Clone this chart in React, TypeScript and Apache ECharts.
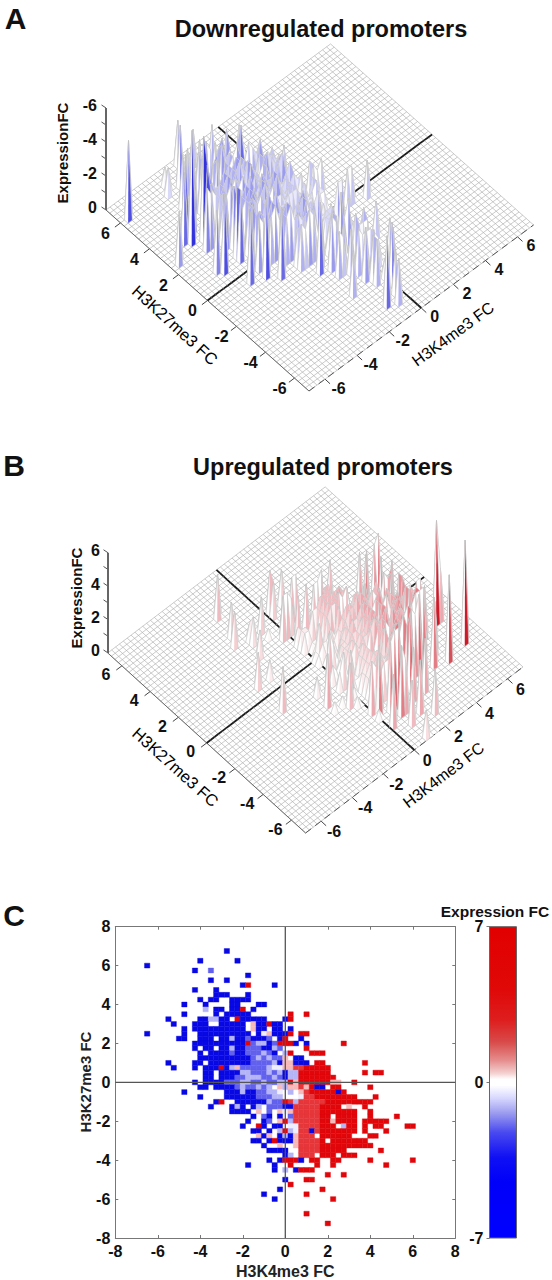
import React, { useEffect, useRef } from "react";
import * as echarts from "echarts";

// Panel C cells, rows from H3K27me3 FC 6.75 down to -7.25 in 0.25 steps.
// Left of "|": H3K4me3 FC -6.5 .. -0.25; right of "|": 0 .. 6.
const heatRows = [
  "...............B", "", "..........B......B", "B", ".........B..b", "...................B",
  "............B..B", "..................BR....B", ".........B...B", ".............BBB...B",
  "..........B.BB..BBBB", ".......B...B....BB...BB", "...........c.BB.BBR.B",
  ".......B.....B.BBBBB|.R..R", "....B.....BBccBB.RBBBBB|BR", ".....B...BBB..BBBBB.pBBRBB",
  ".......B.BBBBBBBBBB.pBB.BB|.B", "B......B..BBBBBBBBBB.BwpBB|BR.RR", "......BB..BBB.BBcBBbBBBb.B|R..B",
  ".........BBBBBBBBBBRbccBbR|RRB.B......R", ".........B.BB.BBcBBbbbBBcb|....R",
  "..........B.BBBBbBBbbbcbB.|cR...RRR", "..........BBBBBBBBBBbcbcbb|p.BB",
  "....B....BB.BBBBBBBBbbbbcB|ppBBB.RR.......R", ".....B...B.BBBRBcpbbbbbcww|pprrRRRRR",
  "...........BB.BBBBccbbbcbc|BccRRRRRR......R.RR", "...........BB.BBBbbcccbbcb|BccRRRRRRR",
  ".........B.BBBBbbbccbbcbbc|cRpRRRRRRpp..R", "..........BB.BBBBbcbbcbc.p|cpprpRBB.RR.....R",
  ".......B.......BBBcBBbbccw|.c.prRRRRRBR", "..........B....BBBBBBbbbcc|...wrrRRRRRRRR...R",
  ".............BR..BBBBBBcbb|RrcrrrrrRRRRRRRRR", "............B...BcB.Bc.bbb|BBrrrrrRRRR.p..R",
  "................BBBB.p.b.p|wprrrrrRRRRRRR..R", "....................B.bB.B|.brrrrrRR.RRRR..R....R",
  "...................B..Bb.p|RcrrrrrRRpRRRR.RRRRR", "..................B..RB.BB|.wwrrrrRRR.cRR.R.RR....RR",
  "....................BB.B.c|RcwrrBrRRRRRRR.R...R", ".....................pBp.B|cBprrr.RRRRRR...RR",
  "....................BB.BRB|BBprrrrR.RRRRRRR", "......................B..p|..prrrrRRRRRRRRRR",
  ".......................BBB|B..rrrrRRRRR......R", "|Bc.rrr.RRR.RRR", ".......................B.B|RRRB.RR..RR.....R.......R",
  "...................B....B.|.R....R..R.........R", "........................B|c.BRRR", "|........R..R", "|B...RR",
  "|.R", ".........................B|.......R", "......................B|....R", "........................B|.........R",
  "", "", "|....R", "", "|........R",
];
const heatCodes: Record<string, number> = { B: -7, b: -2.3, c: -1.1, w: -0.25, p: 1, r: 2.9, R: 7 };

// Panel A: |Expression FC| per cell, hex digit = value x 2, same layout as heatRows.
const downRows = [
  "...............5", "", "..........2......4", "9", ".........3..7", "...................5",
  "............5..5", "..................4.....4", ".........6...5", ".............465...6",
  "..........6.47..5634", ".......8...6....64...53", "...........2.56.45..6",
  ".......a.....6.54568", "....8.....64..45..54654|3", ".....d...554..45645..36.34",
  ".......c.5456545645..54.43|.4", "6......9..4564543654.5..34", "......76..546.4536445654.4",
  ".........4564564354.53354.", ".........6.45.563454445634", "..........7.5645365444345.|2",
  "..........6456546546434343|2.43", "....7....86.56456456434324|..434",
  ".....9...8.565.43.44344311|11", "...........64.564523444342|422", "...........53.456442223323|422",
  ".........7.65464432233233|2", "..........65.56453244232..|2.....44", ".......8.......56425644221|.2........4",
  "..........9....56456544422", ".............7...546456233|..2", "............8...425.52.333|66",
  "................5465.1.3.1|1", "....................5.35.6|.3", "...................7..53.1|.2",
  "..................8...5.46|.1", "....................65.4.2|.2...4", ".....................151.5|25",
  "....................54.4.4|44", "......................5..1", ".......................544|4",
  "|43", ".......................6.5|...5", "...................5....5.", "........................5|2.5",
  "", "|7", "", ".........................5", "......................8", "........................5",
  "", "", "", "", "",
];

// Panel B: Expression FC per cell, hex digit = value x 2, same layout as heatRows.
const upRows = [
  "", "", "", "", "", "", "", "...................5", "", "", "", "", "..................4",
  "|.5..4", ".................4|.4", "....................2..4", "....................3",
  ".......................1|.4.55", "|4", "...................3.....5|54.........5", "|....5",
  "|.5...556", "|2", "|22....55.......6", "..............4..2|224455544", "|.11455555......7.78",
  "|.114555655", "|14145565633..8", "|122325...55.....7", "|.1.2345545.6", "|...13455665456...7",
  "..............5|53134344565654767", "|..334534654.2..7", ".....................2...2|12334435656756..7",
  "|..3434456.6576..7....4", ".........................2|41343445626756.56655", ".....................6|.113435657.167.7.55....c6",
  "|51134.35675676.7...6", ".....................1.1|1.2343.565767...88", "........................5|..234436.5676578",
  ".........................1|..234435676567888", "|...343467678......6", "|.1.344.768.879", "|656..78..78.....8.......c",
  "|.8....9..9.........a", "|1..899", "|........6..6", "|....86", "|.6", "|.......6", "|....5", "|.........5",
  "", "", "|....3", "", "",
];

const floorTicks = [-6, -4, -2, 0, 2, 4, 6];
const heightTicks = [0, 1, 2, 3, 4, 5, 6];
const scatterTicksMax = 8;
const barTicks = [-7, 0, 7];

const FONT = "'Liberation Sans', Arial, sans-serif";

type Panel = {
  bx: number; by: number; e4x: number; e4y: number; e27x: number; e27y: number; zs: number;
  sign: number; lx: number; ly: number; rx: number; ry: number; zx: number; zlab: number;
};
const panelA: Panel = { bx: 309, by: 391, e4x: 16.04, e4y: -11.86, e27x: -14.5, e27y: -12.93, zs: 17, sign: -1, lx: -15, ly: 10.5, rx: 13.5, ry: 9, zx: 106, zlab: 97 };
const panelB: Panel = { bx: 305.6, by: 833, e4x: 15.53, e4y: -11.86, e27x: -14.13, e27y: -12.86, zs: 16.7, sign: 1, lx: -16, ly: 9, rx: 13, ry: 10.5, zx: 108, zlab: 100 };

const project = (p: Panel, i: number, j: number, h: number) => [
  p.bx + (i / 4) * p.e4x + (j / 4) * p.e27x,
  p.by + (i / 4) * p.e4y + (j / 4) * p.e27y - h * p.zs,
];

const eachCell = (rows: string[], fn: (c: string, x: number, y: number) => void) => {
  rows.forEach((row, r) => {
    const [left, right] = row.includes("|") ? row.split("|") : [row, ""];
    const line = left.padEnd(26, ".") + right;
    for (let c = 0; c < line.length; c++) {
      if (line[c] !== ".") fn(line[c], -6.5 + c * 0.25, 6.75 - r * 0.25);
    }
  });
};

const heightGrid = (rows: string[]) => {
  const z: number[][] = Array.from({ length: 57 }, () => new Array(57).fill(0));
  eachCell(rows, (c, x, y) => {
    const i = Math.round((x + 7) * 4);
    const j = Math.round((y + 7) * 4);
    if (i >= 0 && i <= 56 && j >= 0 && j <= 56) z[i][j] = parseInt(c, 16) * 0.5;
  });
  return z;
};

const mix = (a: number[], b: number[], t: number) => {
  const k = Math.max(0, Math.min(1, t));
  return `rgb(${a.map((v, n) => Math.round(v + (b[n] - v) * k)).join(",")})`;
};

const surfaceSeries = (p: Panel, rows: string[], peak: number[], full: number) => {
  const z = heightGrid(rows);
  const quads: any[] = [];
  const shade = (h: number) => mix([255, 255, 255], peak, Math.pow(h / full, 1.4));
  for (let i = 0; i < 56; i++) {
    for (let j = 0; j < 56; j++) {
      const a = z[i][j], b = z[i + 1][j], c = z[i + 1][j + 1], d = z[i][j + 1];
      if (a || b || c || d) quads.push([i + j + 1, 0, i, j, a, b, c, d]);
      if (j === 28 && !a && !b) quads.push([i + j + 0.5, 1, i, j, 0, 0, 0, 0]);
      if (i === 28 && !a && !d) quads.push([i + j + 0.5, 2, i, j, 0, 0, 0, 0]);
    }
  }
  quads.sort((u, v) => v[0] - u[0]);
  return {
    type: "custom", xAxisIndex: 0, yAxisIndex: 0, silent: true, progressive: 0, clip: false,
    encode: { x: 2, y: 3 },
    data: quads,
    renderItem: (_: any, api: any) => {
      const kind = api.value(1), i = api.value(2), j = api.value(3);
      if (kind === 1 || kind === 2) {
        const s = project(p, i, j, 0);
        const e = kind === 1 ? project(p, i + 1, j, 0) : project(p, i, j + 1, 0);
        const [s1, s2] = api.coord(s), [e1, e2] = api.coord(e);
        return { type: "line", shape: { x1: s1, y1: s2, x2: e1, y2: e2 }, style: { stroke: "#1c1c1c", lineWidth: 1.8 } };
      }
      const ha = api.value(4), hb = api.value(5), hc = api.value(6), hd = api.value(7);
      const A = api.coord(project(p, i, j, ha));
      const B = api.coord(project(p, i + 1, j, hb));
      const C = api.coord(project(p, i + 1, j + 1, hc));
      const D = api.coord(project(p, i, j + 1, hd));
      const children: any[] = [
        { type: "polygon", shape: { points: [A, B, C, D] }, style: { fill: "#fff", stroke: "none" } },
      ];
      if (hc > 0) children.push({ type: "polygon", shape: { points: [A, B, C] }, style: { fill: shade(hc), stroke: "none" } });
      if (ha > 0) children.push({ type: "polygon", shape: { points: [A, C, D] }, style: { fill: shade(ha), stroke: "none" } });
      children.push({ type: "polygon", shape: { points: [A, B, C, D] }, style: { fill: "none", stroke: "#c2c2c2", lineWidth: 0.5 } });
      return { type: "group", children };
    },
  };
};

const floorSeries = (p: Panel) => {
  const lines: number[][] = [];
  for (let k = 0; k <= 56; k++) { lines.push([k, 0]); lines.push([k, 1]); }
  return {
    type: "custom", xAxisIndex: 0, yAxisIndex: 0, silent: true, progressive: 0, clip: false,
    encode: { x: 0, y: 1 }, data: lines,
    renderItem: (_: any, api: any) => {
      const k = api.value(0);
      const s = api.coord(api.value(1) ? project(p, k, 0, 0) : project(p, 0, k, 0));
      const e = api.coord(api.value(1) ? project(p, k, 56, 0) : project(p, 56, k, 0));
      return { type: "line", shape: { x1: s[0], y1: s[1], x2: e[0], y2: e[1] }, style: { stroke: "#aeaeae", lineWidth: 0.65 } };
    },
  };
};

const textEl = (x: number, y: number, text: string, size: number, align = "center", weight = "bold", rotation = 0, fill = "#111") => ({
  type: "text", x, y, rotation,
  style: { text, fontFamily: FONT, fontSize: size, fontWeight: weight, fill, align, verticalAlign: "middle" },
});

const axesSeries = (p: Panel) => {
  const data: number[][] = [];
  floorTicks.forEach((v) => { data.push([0, v]); data.push([1, v]); });
  heightTicks.forEach((v) => data.push([2, v]));
  data.push([3, 0]);
  return {
    type: "custom", xAxisIndex: 0, yAxisIndex: 0, silent: true, progressive: 0, clip: false,
    encode: { x: 0, y: 1 }, data,
    renderItem: (_: any, api: any) => {
      const kind = api.value(0), v = api.value(1);
      const seg = (a: number[], b: number[], stroke = "#555", lineWidth = 1, lineDash?: number[]) => {
        const s = api.coord(a), e = api.coord(b);
        return { type: "line", shape: { x1: s[0], y1: s[1], x2: e[0], y2: e[1] }, style: { stroke, lineWidth, lineDash } };
      };
      if (kind === 3) {
        return {
          type: "group",
          children: [
            seg(project(p, 0, 56, 0), project(p, 0, 0, 0), "#6a6a6a", 1),
            seg(project(p, 0, 0, 0), project(p, 56, 0, 0), "#555", 1, [7, 5]),
            seg([p.zx, project(p, 0, 56, 0)[1]], [p.zx, project(p, 0, 56, 6)[1]], "#666", 2),
          ],
        };
      }
      if (kind === 0) {
        const q = project(p, 0, (v + 7) * 4, 0);
        const [tx, ty] = api.coord(q);
        return {
          type: "group",
          children: [
            { type: "line", shape: { x1: tx, y1: ty, x2: tx - 5.6, y2: ty + 4.2 }, style: { stroke: "#444", lineWidth: 1 } },
            textEl(tx + p.lx, ty + p.ly, String(v), 16),
          ],
        };
      }
      if (kind === 1) {
        const q = project(p, (v + 7) * 4, 0, 0);
        const [tx, ty] = api.coord(q);
        return {
          type: "group",
          children: [
            { type: "line", shape: { x1: tx, y1: ty, x2: tx + 5, y2: ty + 4.6 }, style: { stroke: "#444", lineWidth: 1 } },
            textEl(tx + p.rx, ty + p.ry, String(v), 16),
          ],
        };
      }
      const q = project(p, 0, 56, v);
      const [tx, ty] = api.coord([p.zx, q[1]]);
      const children: any[] = [
        { type: "line", shape: { x1: tx, y1: ty, x2: tx - 4.5, y2: ty - 3 }, style: { stroke: "#555", lineWidth: 1 } },
      ];
      if (v % 2 === 0) children.push(textEl(p.zlab, ty - 2, String(v === 0 ? 0 : v * p.sign), 16, "right"));
      return { type: "group", children };
    },
  };
};

const heatColor = (fc: number) => {
  const t = Math.min(Math.abs(fc) / 3.6, 1);
  return fc < 0 ? mix([255, 255, 255], [8, 8, 228], t) : mix([255, 255, 255], [224, 6, 10], t);
};

const heatCells: number[][] = [];
eachCell(heatRows, (c, x, y) => heatCells.push([x, y, heatCodes[c]]));

export default function App() {
  const ref = useRef<HTMLDivElement>(null);
  useEffect(() => {
    const chart = echarts.init(ref.current!, undefined, { renderer: "svg" });
    const hiddenX = { type: "value", show: false, splitLine: { show: false } };
    const tickAxis = (extra: any) => ({
      type: "value", min: -scatterTicksMax, max: scatterTicksMax, interval: 2, gridIndex: 1, splitLine: { show: false },
      axisLine: { onZero: false, lineStyle: { color: "#777", width: 1 } },
      axisTick: { inside: true, length: 3, lineStyle: { color: "#777" } },
      axisLabel: { show: false },
      ...extra,
    });
    const labelStyle = { show: true, fontFamily: FONT, fontWeight: "bold", fontSize: 16, color: "#111", margin: 5 };
    const nameStyle = { fontFamily: FONT, fontWeight: "bold", fontSize: 16, color: "#222" };
    chart.setOption({
      animation: false,
      backgroundColor: "#fff",
      grid: [
        { left: 0, top: 0, width: 552, height: 1280 },
        { left: 115.3, top: 926.7, width: 340, height: 311.3 },
        { left: 489.5, top: 926.7, width: 27, height: 311.3 },
      ],
      xAxis: [
        { ...hiddenX, min: 0, max: 552, gridIndex: 0 },
        tickAxis({ position: "bottom", axisLabel: labelStyle, name: "H3K4me3 FC", nameLocation: "middle", nameGap: 25, nameTextStyle: nameStyle }),
        tickAxis({ position: "top" }),
        { ...hiddenX, min: 0, max: 1, gridIndex: 2 },
      ],
      yAxis: [
        { ...hiddenX, min: 0, max: 1280, inverse: true, gridIndex: 0 },
        tickAxis({ position: "left", axisLabel: labelStyle }),
        tickAxis({ position: "right" }),
        {
          type: "value", min: barTicks[0], max: barTicks[2], interval: 7, gridIndex: 2, position: "left", splitLine: { show: false },
          axisLine: { onZero: false, lineStyle: { color: "#777" } }, axisTick: { inside: false, length: 3, lineStyle: { color: "#777" } },
          axisLabel: { ...labelStyle, margin: 6 },
        },
      ],
      graphic: {
        elements: [
          textEl(15.5, 18, "A", 30),
          textEl(14, 465, "B", 30),
          textEl(14, 915, "C", 30),
          textEl(321, 29, "Downregulated promoters", 23.5),
          textEl(323, 467, "Upregulated promoters", 23.5),
          textEl(62, 153, "ExpressionFC", 15, "center", "bold", Math.PI / 2),
          textEl(76, 598, "ExpressionFC", 15, "center", "bold", Math.PI / 2),
          textEl(175, 325, "H3K27me3 FC", 16.5, "center", "normal", -0.74, "#000"),
          textEl(453, 334, "H3K4me3 FC", 16, "center", "normal", 0.63, "#000"),
          textEl(175.6, 767, "H3K27me3 FC", 16.5, "center", "normal", -0.73, "#000"),
          textEl(443.5, 775, "H3K4me3 FC", 16, "center", "normal", 0.65, "#000"),
          textEl(495, 911, "Expression FC", 15.5),
          textEl(85.5, 1082, "H3K27me3 FC", 15, "center", "bold", Math.PI / 2, "#222"),
        ],
      },
      series: [
        floorSeries(panelA),
        axesSeries(panelA),
        surfaceSeries(panelA, downRows, [50, 50, 220], 5),
        floorSeries(panelB),
        axesSeries(panelB),
        surfaceSeries(panelB, upRows, [205, 25, 40], 6),
        {
          type: "custom", xAxisIndex: 1, yAxisIndex: 1, silent: true, progressive: 0, clip: true,
          encode: { x: 0, y: 1 }, data: heatCells,
          renderItem: (_: any, api: any) => {
            const c = api.coord([api.value(0), api.value(1)]);
            const s = api.size([0.25, 0.25]);
            const col = heatColor(api.value(2));
            return { type: "rect", shape: { x: c[0] - s[0] / 2, y: c[1] - s[1] / 2, width: s[0], height: s[1] }, style: { fill: col, stroke: col, lineWidth: 0.4 } };
          },
        },
        {
          type: "custom", xAxisIndex: 1, yAxisIndex: 1, silent: true, clip: true,
          encode: { x: 0, y: 1 }, data: [[0, -8, 0, 8], [-8, 0, 8, 0]],
          renderItem: (_: any, api: any) => {
            const s = api.coord([api.value(0), api.value(1)]);
            const e = api.coord([api.value(2), api.value(3)]);
            return { type: "line", shape: { x1: s[0], y1: s[1], x2: e[0], y2: e[1] }, style: { stroke: "#555", lineWidth: 1.3 } };
          },
        },
        {
          type: "custom", xAxisIndex: 3, yAxisIndex: 3, silent: true, clip: false,
          encode: { x: 0, y: 1 }, data: [[0, barTicks[0], 1, barTicks[2]]],
          renderItem: (_: any, api: any) => {
            const s = api.coord([api.value(0), api.value(1)]);
            const e = api.coord([api.value(2), api.value(3)]);
            return {
              type: "rect", shape: { x: s[0], y: e[1], width: e[0] - s[0], height: s[1] - e[1] },
              style: {
                stroke: "#666", lineWidth: 1,
                fill: new echarts.graphic.LinearGradient(0, 0, 0, 1, [
                  { offset: 0, color: "#e20000" }, { offset: 0.2, color: "#e00808" }, { offset: 0.3, color: "#de1e1e" },
                  { offset: 0.37, color: "#d84a4a" }, { offset: 0.43, color: "#e68e8e" }, { offset: 0.47, color: "#f4cfcf" },
                  { offset: 0.49, color: "#ffffff" }, { offset: 0.51, color: "#ffffff" }, { offset: 0.55, color: "#d8d8ff" },
                  { offset: 0.6, color: "#9a9af0" }, { offset: 0.66, color: "#4a4af0" }, { offset: 0.74, color: "#1010f4" },
                  { offset: 0.82, color: "#0000fa" }, { offset: 1, color: "#0000ff" },
                ]),
              },
            };
          },
        },
      ],
    });
    return () => chart.dispose();
  }, []);
  return <div ref={ref} style={{ position: "absolute", left: 0, top: 0, width: 552, height: 1280 }} />;
}
